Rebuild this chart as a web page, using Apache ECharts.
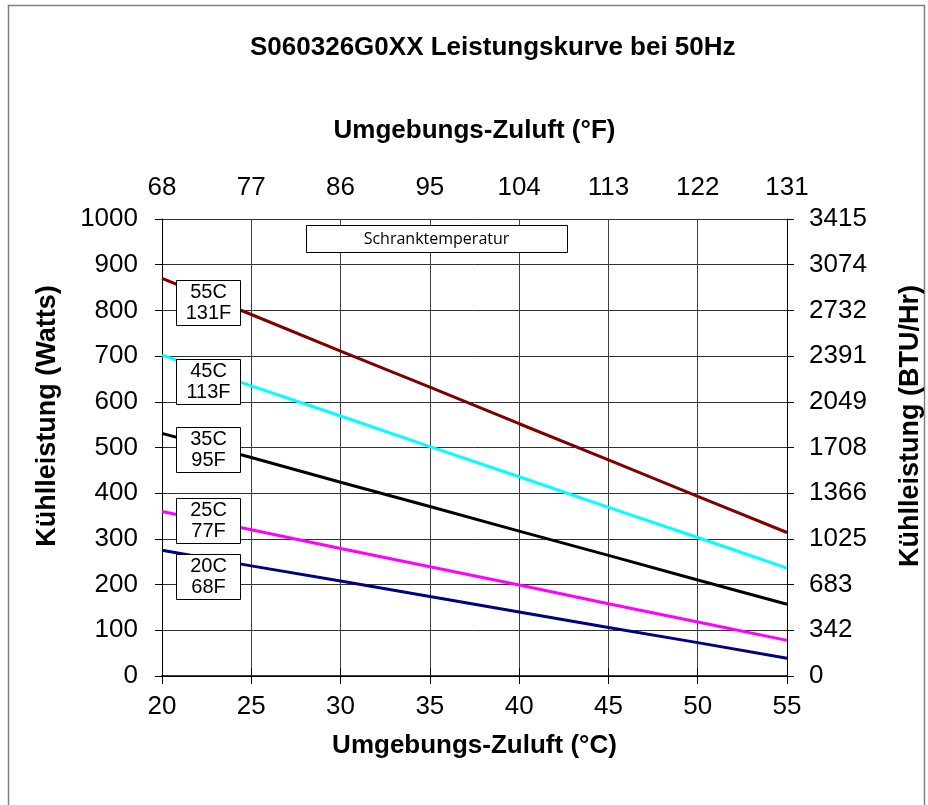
<!DOCTYPE html>
<html lang="de">
<head>
  <meta charset="UTF-8">
  <title>S060326G0XX Leistungskurve bei 50Hz</title>
  <script src="https://cdn.jsdelivr.net/npm/echarts@6/dist/echarts.min.js"></script>
  <style>
    html, body { margin: 0; padding: 0; background: #fff; }
    #chart { width: 928px; height: 805px; }
  </style>
</head>
<body>
<div id="chart"></div>
<script>
  // Umgebungs-Zuluft in °C (x-Achse unten)
  var tempC = [20, 25, 30, 35, 40, 45, 50, 55];
  // Tick-Beschriftungen oben (°F) und rechts (BTU/Hr)
  var fLabels = ['68', '77', '86', '95', '104', '113', '122', '131'];
  var btuLabels = ['0', '342', '683', '1025', '1366', '1708', '2049', '2391', '2732', '3074', '3415'];

  // Kühlleistung (Watts) je Schranktemperatur
  var cab55 = [870, 791, 711, 632, 552, 473, 393, 314];
  var cab45 = [702, 635, 569, 502, 436, 369, 303, 236];
  var cab35 = [531, 478, 424, 371, 317, 264, 210, 157];
  var cab25 = [360, 320, 279, 239, 199, 158, 118, 78];
  var cab20 = [275, 241, 208, 174, 140, 106, 73, 39];

  var seriesNames = [['55C', '131F'], ['45C', '113F'], ['35C', '95F'], ['25C', '77F'], ['20C', '68F']];
  var seriesData = [cab55, cab45, cab35, cab25, cab20];
  var seriesColors = ['#800000', '#00ffff', '#000000', '#ff00ff', '#000080'];

  var FONT = '"Liberation Sans", Arial, sans-serif';

  function pairs(arr) {
    return tempC.map(function (t, i) { return [t, arr[i]]; });
  }

  var chart = echarts.init(document.getElementById('chart'), null, { renderer: 'canvas' });

  // Beschriftungskästen links neben den Kurven
  var boxTops = [280, 359, 427, 498, 554];
  var labelBoxes = seriesNames.map(function (n, i) {
    return {
      type: 'group',
      left: 176,
      top: boxTops[i],
      z: 100,
      children: [
        { type: 'rect', z: 100, shape: { x: 0, y: 0, width: 64, height: 45 },
          style: { fill: '#fff', stroke: '#000', lineWidth: 1 } },
        { type: 'text', z: 101, x: 32, y: 12,
          style: { text: n[0], fill: '#000', font: '20px ' + FONT,
                   align: 'center', verticalAlign: 'middle' } },
        { type: 'text', z: 101, x: 32, y: 33,
          style: { text: n[1], fill: '#000', font: '20px ' + FONT,
                   align: 'center', verticalAlign: 'middle' } }
      ]
    };
  });

  // Achsentitel links/rechts: im Original nicht genau mittig
  function sideTitle(text, x, y) {
    return { type: 'text', x: x, y: y, rotation: Math.PI / 2, z: 50,
      style: { text: text, fill: '#000', font: 'bold 27px ' + FONT,
               align: 'center', verticalAlign: 'middle' } };
  }

  var option = {
    backgroundColor: '#fff',
    animation: false,
    title: {
      text: 'S060326G0XX Leistungskurve bei 50Hz',
      left: 250,
      top: 35,
      padding: 0,
      textStyle: { fontFamily: FONT, fontSize: 26, fontWeight: 'bold', color: '#000' }
    },
    grid: { left: 162, right: 141, top: 219, bottom: 129, outerBoundsMode: 'none', containLabel: false },
    xAxis: [
      {
        type: 'value', position: 'bottom', min: 20, max: 55, interval: 5,
        name: 'Umgebungs-Zuluft (°C)', nameLocation: 'middle', nameGap: 57,
        nameTextStyle: { fontFamily: FONT, fontSize: 26, fontWeight: 'bold', color: '#000' },
        axisLine: { lineStyle: { color: '#404040', width: 2 } },
        axisTick: { length: 8, lineStyle: { color: '#000' } },
        axisLabel: { fontFamily: FONT, fontSize: 26, color: '#000', margin: 18 },
        splitLine: { show: true, lineStyle: { color: '#404040', width: 1 } }
      },
      {
        type: 'value', position: 'top', min: 20, max: 55, interval: 5,
        name: 'Umgebungs-Zuluft (°F)', nameLocation: 'middle', nameGap: 75,
        nameTextStyle: { fontFamily: FONT, fontSize: 26, fontWeight: 'bold', color: '#000' },
        axisLine: { lineStyle: { color: '#000', width: 1 } },
        axisTick: { length: 8, lineStyle: { color: '#000' } },
        axisLabel: {
          fontFamily: FONT, fontSize: 26, color: '#000', margin: 18,
          formatter: function (v) { return fLabels[Math.round((v - 20) / 5)]; }
        },
        splitLine: { show: false }
      }
    ],
    yAxis: [
      {
        type: 'value', position: 'left', min: 0, max: 1000, interval: 100,
        axisLine: { show: true, lineStyle: { color: '#000', width: 1 } },
        axisTick: { show: true, length: 7, lineStyle: { color: '#000' } },
        axisLabel: {
          fontFamily: FONT, fontSize: 26, color: '#000', margin: 24,
          formatter: function (v) { return String(v); }
        },
        splitLine: { show: true, lineStyle: { color: '#303030', width: 1 } }
      },
      {
        type: 'value', position: 'right', min: 0, max: 1000, interval: 100,
        axisLine: { show: true, lineStyle: { color: '#000', width: 1 } },
        axisTick: { show: true, length: 7, lineStyle: { color: '#000' } },
        axisLabel: {
          fontFamily: FONT, fontSize: 26, color: '#000', margin: 22,
          formatter: function (v) { return btuLabels[Math.round(v / 100)]; }
        },
        splitLine: { show: false }
      }
    ],
    series: seriesData.map(function (d, i) {
      return {
        name: seriesNames[i].join(' '),
        type: 'line',
        data: pairs(d),
        showSymbol: false,
        lineStyle: { color: seriesColors[i], width: 3 },
        itemStyle: { color: seriesColors[i] },
        z: 3
      };
    }),
    graphic: [
      { type: 'rect', left: 6, top: 3, z: -1, silent: true,
        shape: { width: 916, height: 830 },
        style: { fill: 'none', stroke: '#808080', lineWidth: 1.5 } },
      sideTitle('Kühlleistung (Watts)', 48, 416),
      sideTitle('Kühlleistung (BTU/Hr)', 911, 426),
      { type: 'group', left: 306, top: 225, z: 100,
        children: [
          { type: 'rect', z: 100, shape: { x: 0, y: 0, width: 261, height: 27 },
            style: { fill: '#fff', stroke: '#000', lineWidth: 1 } },
          { type: 'text', z: 101, x: 130, y: 14,
            style: { text: 'Schranktemperatur', fill: '#000', font: '16px "Open Sans", sans-serif',
                     align: 'center', verticalAlign: 'middle' } }
        ] }
    ].concat(labelBoxes)
  };

  chart.setOption(option);
  window.addEventListener('resize', chart.resize);
</script>
</body>
</html>
